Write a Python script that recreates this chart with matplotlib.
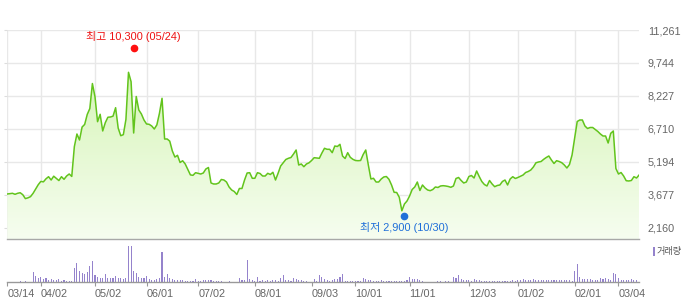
import numpy as np
import matplotlib
matplotlib.use("Agg")
import matplotlib.pyplot as plt
from matplotlib import transforms
from matplotlib.colors import LinearSegmentedColormap
from matplotlib.patches import Rectangle

plt.rcParams['font.family'] = ['Liberation Sans', 'Noto Sans CJK KR', 'DejaVu Sans']

# ---------------- data ----------------
price = [
    3722, 3740, 3754, 3708, 3754, 3780, 3690, 3510, 3545, 3600,
    3754, 3950, 4150, 4300, 4280, 4420, 4517, 4365, 4540, 4443,
    4340, 4517, 4398, 4549, 4641, 4530, 5900, 6480, 6204, 6800,
    6920, 7380, 7650, 8800, 8195, 7046, 7386, 6620, 7000, 7250,
    7262, 7300, 7689, 6750, 6402, 6450, 7150, 9316, 8884, 6526,
    8204, 7583, 7400, 7124, 6940, 6926, 6848, 6710, 6900, 7432,
    8121, 6250, 6250, 6150, 5700, 5420, 5500, 5170, 5250, 5100,
    4850, 4600, 4580, 4701, 4673, 4641, 4687, 4871, 4940, 4228,
    4182, 4182, 4228, 4389, 4365, 4273, 4044, 3906, 3837, 3699,
    3975, 3975, 4365, 4687, 4701, 4444, 4444, 4701, 4665, 4549,
    4549, 4673, 4618, 4720, 4365, 4673, 5009, 5161, 5308, 5363,
    5400, 5561, 5745, 5055, 5101, 4977, 5101, 5156, 5262, 5391,
    5377, 5363, 5607, 5823, 5777, 5777, 5621, 5928, 5906, 6006,
    5468, 5354, 5621, 5409, 5317, 5262, 5253, 5262, 5538, 5745,
    5055, 4412, 4444, 4273, 4273, 4412, 4504, 4526, 4398, 4136,
    3800, 3791, 3570, 2950, 3262, 3400, 3630, 3929, 4044, 4273,
    3883, 4136, 3998, 3906, 3874, 3929, 4044, 4021, 4090, 4104,
    4090, 4067, 4030, 4090, 4435, 4481, 4342, 4228, 4273, 4526,
    4572, 4457, 4779, 4526, 4297, 4159, 4090, 4342, 4182, 4058,
    4113, 4136, 4297, 4365, 4136, 4412, 4517, 4435, 4481, 4536,
    4595, 4710, 4756, 4825, 4963, 5156, 5193, 5216, 5317, 5400,
    5469, 5285, 5124, 5253, 5216, 5161, 5055, 4917, 5078, 5515,
    6296, 7055, 7124, 7124, 6848, 6733, 6779, 6779, 6687, 6595,
    6480, 6388, 6388, 6066, 6512, 6618, 4894, 4641, 4710, 4549,
    4333, 4320, 4343, 4517, 4457, 4595,
]

volume = [
    0, 0, 0, 0, 0, 4, 0, 4, 0, 0,
    31, 19, 14, 17, 9, 12, 7, 10, 7, 8,
    10, 5, 7, 5, 5, 5, 42, 59, 34, 29,
    25, 31, 49, 64, 22, 17, 14, 12, 25, 14,
    12, 13, 20, 14, 12, 9, 13, 109, 109, 35,
    29, 17, 14, 14, 19, 9, 7, 7, 9, 14,
    92, 17, 24, 12, 9, 8, 8, 8, 6, 5,
    5, 5, 5, 10, 5, 5, 6, 8, 8, 6,
    5, 5, 5, 4, 0, 0, 4, 0, 0, 0,
    14, 6, 8, 67, 11, 7, 5, 16, 5, 6,
    5, 7, 5, 7, 6, 5, 14, 22, 8, 7,
    5, 13, 9, 7, 6, 5, 5, 2, 2, 10,
    5, 22, 15, 11, 7, 5, 7, 11, 11, 16,
    25, 4, 4, 4, 4, 5, 4, 4, 13, 9,
    7, 6, 5, 5, 5, 6, 5, 5, 5, 5,
    5, 5, 5, 5, 5, 6, 17, 9, 10, 11,
    7, 5, 0, 0, 0, 0, 0, 4, 4, 0,
    4, 4, 0, 16, 12, 22, 9, 7, 8, 7,
    5, 11, 7, 6, 5, 5, 5, 5, 4, 4,
    5, 5, 4, 5, 5, 5, 6, 5, 6, 7,
    9, 8, 6, 7, 11, 6, 8, 7, 8, 7,
    8, 7, 7, 6, 7, 6, 7, 6, 6, 5,
    35, 55, 17, 10, 11, 9, 10, 7, 8, 8,
    12, 9, 12, 9, 6, 29, 25, 14, 8, 7,
    6, 7, 11, 7, 6, 5,
]

tick_idx = [0, 13, 34, 54, 74, 96, 118, 135, 156, 179, 198, 220, 237]
tick_labels = ["03/14", "04/02", "05/02", "06/01", "07/02", "08/01", "09/03",
               "10/01", "11/01", "12/03", "01/02", "02/01", "03/04"]
y_ticks = [2160, 3677, 5194, 6710, 8227, 9744, 11261]

high_idx, high_val, high_label = 49, 10300, "최고 10,300 (05/24)"
low_idx, low_val, low_label = 154, 2900, "최저 2,900 (10/30)"

# ---------------- figure ----------------
W, H = 684, 306
fig = plt.figure(figsize=(W / 100, H / 100), dpi=100)
fig.patch.set_facecolor('white')

x = np.arange(len(price))
left_px, right_px = 7.3, 639.1
ax = fig.add_axes([left_px / W, (H - 239) / H, (right_px - left_px) / W, 209 / H])
ax.set_xlim(0, len(price) - 1)
ax.set_ylim(1653, 11261)

grid_c = '#e8e8e8'
ax.set_yticks(y_ticks)
ax.set_yticklabels([f"{v:,}" for v in y_ticks])
ax.set_xticks(tick_idx)
ax.set_xticklabels([])
ax.grid(True, color=grid_c, lw=1.0)
ax.set_axisbelow(True)
for s in ['top', 'left', 'right']:
    ax.spines[s].set_visible(False)
ax.spines['bottom'].set_color('#a8a8a8')
ax.spines['bottom'].set_linewidth(1.0)
ax.tick_params(axis='x', length=0)
ax.tick_params(axis='y', left=True, right=False, labelleft=False, labelright=True,
               length=2, color='#dddddd', pad=4.2, labelsize=7.8, labelcolor='#666666')

# gradient fill under the line
poly = ax.fill_between(x, price, 1653, color='none', lw=0)
cmap = LinearSegmentedColormap.from_list('g', ['#f6fdf0', '#cff3aa'])
grad = np.linspace(0, 1, 256).reshape(-1, 1)
im = ax.imshow(grad, extent=[0, len(price) - 1, 1653, 11261], origin='lower',
               aspect='auto', cmap=cmap, zorder=1.5)
im.set_clip_path(poly.get_paths()[0], transform=ax.transData)
ax.plot(x, price, color='#62c41c', lw=1.1, zorder=3)

# high / low markers
up = transforms.offset_copy(ax.transData, fig=fig, x=0, y=2.5, units='dots')
dn = transforms.offset_copy(ax.transData, fig=fig, x=0, y=-4, units='dots')
ax.plot([high_idx], [high_val], 'o', color='#ff1010', ms=4.5, transform=up, zorder=4,
        clip_on=False)
ax.plot([low_idx], [low_val], 'o', color='#1f6fd9', ms=4.5, transform=dn, zorder=4,
        clip_on=False)
ax.annotate(high_label, (high_idx, high_val), xytext=(0, 10.5), textcoords='offset points',
            ha='center', va='center', color='#ee1111', fontsize=7.9, zorder=5)
ax.annotate(low_label, (low_idx, low_val), xytext=(0, -11.5), textcoords='offset points',
            ha='center', va='center', color='#1f6fd9', fontsize=7.9, zorder=5)

# ---------------- volume panel ----------------
vax = fig.add_axes([left_px / W, (H - 282.3) / H, (right_px - left_px) / W, 38.3 / H])
vax.bar(x, volume, width=0.42, color='#9583cc', lw=0)
vax.set_xlim(0, len(price) - 1)
vax.set_ylim(0, 115)
for s in ['top', 'left', 'right']:
    vax.spines[s].set_visible(False)
vax.spines['bottom'].set_color('#999999')
vax.spines['bottom'].set_linewidth(1.0)
vax.set_yticks([])
vax.set_xticks(tick_idx)
vax.set_xticklabels(tick_labels)
vax.tick_params(axis='x', length=2.6, width=0.8, color='#999999', pad=2.5,
                labelsize=7.8, labelcolor='#666666')
for lbl in vax.get_xticklabels():
    lbl.set_horizontalalignment('left')

# legend-like label (kept inside the figure)
fig.patches.append(Rectangle((652.5 / W, 1 - 255.5 / H), 2.2 / W, 8.5 / H,
                             transform=fig.transFigure, color='#9583cc', lw=0))
fig.text(656.5 / W, 1 - 251.5 / H, '거래량', ha='left', va='center', fontsize=6.6,
         color='#555555')

fig.savefig('out.png', dpi=100)
